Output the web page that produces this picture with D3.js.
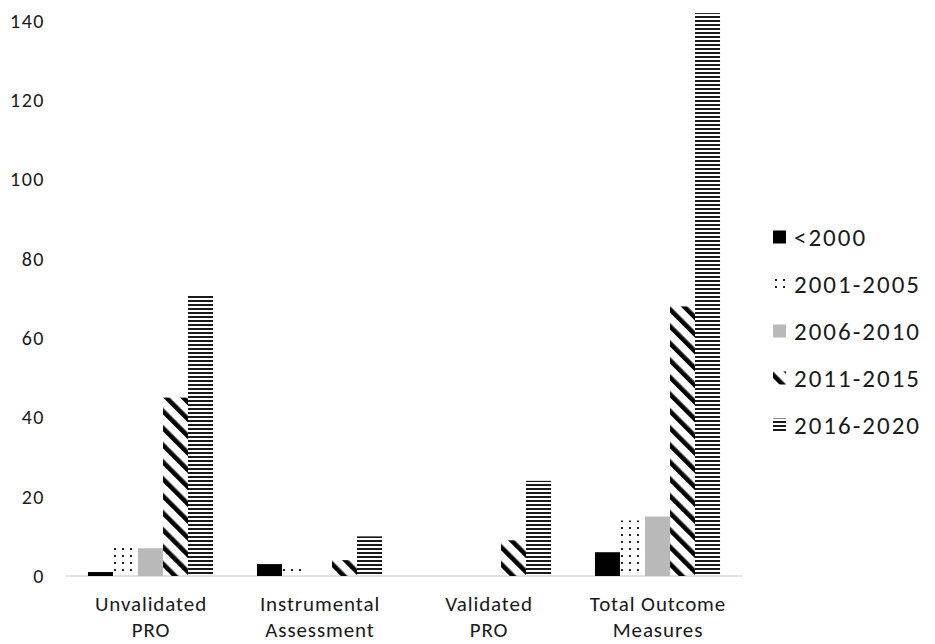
<!DOCTYPE html>
<html>
<head>
<meta charset="utf-8">
<script src="https://cdn.jsdelivr.net/npm/d3@7"></script>
<style>
  html, body { margin: 0; padding: 0; background: #fff; }
  svg { display: block; }
  text { font-family: Carlito, Lato, "Open Sans", sans-serif; fill: #1a1a1a; }
</style>
</head>
<body>
<svg id="chart" width="935" height="644"></svg>
<script>
// ---- data ----
const categories = [["Unvalidated", "PRO"], ["Instrumental", "Assessment"], ["Validated", "PRO"], ["Total Outcome", "Measures"]];
const seriesNames = ["<2000", "2001-2005", "2006-2010", "2011-2015", "2016-2020"];
const valuesPre2000 = [1, 3, 0, 6];
const values2001_2005 = [8, 3, 0, 14];
const values2006_2010 = [7, 0, 0, 15];
const values2011_2015 = [45, 4, 9, 68];
const values2016_2020 = [71, 10, 24, 142];
const yTicks = [0, 20, 40, 60, 80, 100, 120, 140];

const seriesValues = [valuesPre2000, values2001_2005, values2006_2010, values2011_2015, values2016_2020];
const catKeys = categories.map(c => c.join(" "));

const svg = d3.select("#chart");
const defs = svg.append("defs");

// patterns
const pDots = defs.append("pattern").attr("id", "p-dots").attr("patternUnits", "userSpaceOnUse")
  .attr("width", 8).attr("height", 7);
pDots.append("rect").attr("x", 2).attr("y", 2).attr("width", 2).attr("height", 2).attr("fill", "#222");

const pDiag = defs.append("pattern").attr("id", "p-diag").attr("patternUnits", "userSpaceOnUse")
  .attr("width", 12).attr("height", 12).attr("patternTransform", "rotate(-45)");
pDiag.append("rect").attr("x", 0).attr("y", 0).attr("width", 4.6).attr("height", 12).attr("fill", "#000");

const pHoriz = defs.append("pattern").attr("id", "p-horiz").attr("patternUnits", "userSpaceOnUse")
  .attr("width", 8).attr("height", 4);
pHoriz.append("rect").attr("x", 0).attr("y", 0).attr("width", 8).attr("height", 2).attr("fill", "#1a1a1a");

const fills = ["#000000", "url(#p-dots)", "#b9b9b9", "url(#p-diag)", "url(#p-horiz)"];

// scales
const x0 = d3.scaleBand().domain(catKeys).range([66, 742]).paddingInner(0.26).paddingOuter(0.13);
const x1 = d3.scaleBand().domain(seriesNames).range([0, x0.bandwidth()]);
const y = d3.scaleLinear().domain([0, 140]).range([576, 21]);

// y axis labels
const yAxis = d3.axisLeft(y).tickValues(yTicks).tickSize(0).tickPadding(0);
const gy = svg.append("g").attr("transform", "translate(45,0)").call(yAxis);
gy.select(".domain").remove();
gy.selectAll("text").style("font-family", "Carlito, Lato, 'Open Sans', sans-serif")
  .style("font-size", "20px").style("letter-spacing", "1.5px").attr("fill", "#1a1a1a");

// baseline
svg.append("line").attr("x1", 66).attr("x2", 742).attr("y1", y(0)).attr("y2", y(0))
  .attr("stroke", "#d9d9d9").attr("stroke-width", 1.3);

// bars
const groups = svg.append("g").selectAll("g").data(catKeys).join("g")
  .attr("transform", d => `translate(${x0(d)},0)`);
groups.selectAll("rect").data((d, ci) => seriesNames.map((s, si) => ({ s, si, v: seriesValues[si][ci] })))
  .join("rect")
  .attr("x", d => x1(d.s))
  .attr("width", x1.bandwidth())
  .attr("y", d => y(d.v))
  .attr("height", d => y(0) - y(d.v))
  .attr("fill", d => fills[d.si]);

// category labels
const cx = i => x0(catKeys[i]) + x0.bandwidth() / 2 + 0.5;
const xLab = svg.append("g").selectAll("text").data(categories).join("text")
  .attr("text-anchor", "middle")
  .style("font-size", "21px").style("letter-spacing", "0.9px");
xLab.append("tspan").text(d => d[0]).attr("x", (d, i) => cx(i)).attr("y", 611);
xLab.append("tspan").text(d => d[1]).attr("x", (d, i) => cx(i)).attr("y", 637);

// legend
const legendY = d3.scalePoint().domain(seriesNames).range([237, 425]);
const lg = svg.append("g").selectAll("g").data(seriesNames).join("g")
  .attr("transform", d => `translate(773,${legendY(d)})`);
lg.append("rect").attr("x", 0).attr("y", -6.5).attr("width", 13).attr("height", 13)
  .attr("fill", (d, i) => fills[i]);
lg.append("text").attr("x", 21).attr("y", 0).attr("dy", "0.35em")
  .style("font-size", "25px").style("letter-spacing", "2px").text(d => d);
</script>
</body>
</html>
